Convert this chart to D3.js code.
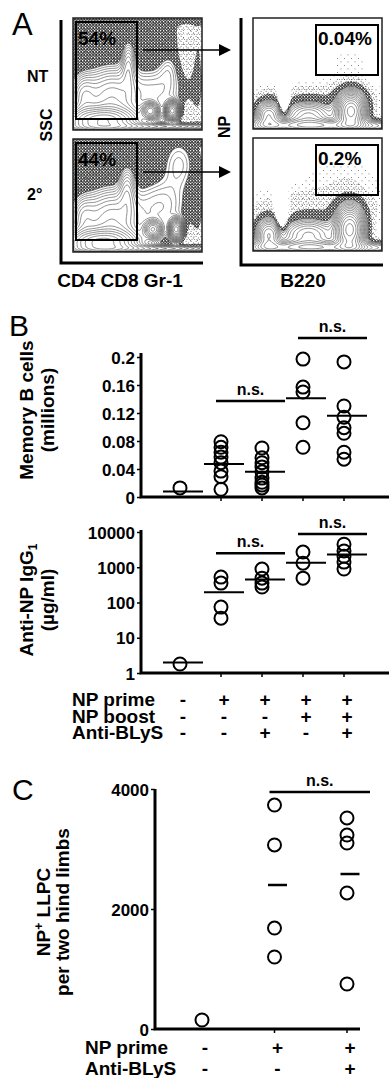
<!DOCTYPE html>
<html>
<head>
<meta charset="utf-8">
<script src="https://cdn.jsdelivr.net/npm/d3@7"></script>
<style>
  body { margin: 0; background: #fff; }
  text { font-family: "Liberation Sans", Arial, Helvetica, sans-serif; font-weight: bold; fill: #000; }
  .letter { font-weight: normal; }
</style>
</head>
<body>
<svg id="fig" width="389" height="1078"></svg>
<script>
// ---------- data ----------
// panel A: gate percentages
const gateLeft = ["54%", "44%"];
const gateRight = ["0.04%", "0.2%"];
const rowNames = ["NT", "2°"];

// flow populations [cx, cy, sx, sy, weight] in plot fractions (y up)
// "pop" = contoured events, "haze" = outlier dots only
const popLeftNT = [
  [0.22, 0.08, 0.17, 0.07, 1.0],
  [0.30, 0.28, 0.14, 0.17, 0.30],
  [0.43, 0.58, 0.035, 0.14, 0.15],
  [0.08, 0.30, 0.06, 0.12, 0.18],
  [0.60, 0.17, 0.035, 0.04, 0.8],
  [0.77, 0.17, 0.03, 0.045, 1.2],
  [0.66, 0.35, 0.13, 0.14, 0.12],
  [0.74, 0.55, 0.05, 0.10, 0.06],
  [0.50, 0.03, 0.33, 0.02, 0.3]
];
const hazeLeftNT = [
  [0.22, 0.80, 0.30, 0.25, 0.06],
  [0.60, 0.80, 0.10, 0.25, 0.04],
  [0.97, 0.50, 0.05, 0.50, 0.03],
  [0.78, 0.85, 0.04, 0.20, 0.02],
  [0.50, 0.98, 0.50, 0.03, 0.05]
];
const popLeft2 = [
  [0.22, 0.08, 0.17, 0.07, 0.9],
  [0.30, 0.28, 0.14, 0.17, 0.30],
  [0.42, 0.55, 0.04, 0.14, 0.14],
  [0.08, 0.30, 0.06, 0.12, 0.15],
  [0.62, 0.20, 0.04, 0.045, 0.6],
  [0.80, 0.20, 0.03, 0.05, 1.0],
  [0.68, 0.40, 0.13, 0.16, 0.12],
  [0.82, 0.78, 0.09, 0.16, 0.09],
  [0.50, 0.03, 0.33, 0.02, 0.25]
];
const hazeLeft2 = [
  [0.18, 0.85, 0.25, 0.20, 0.06],
  [0.56, 0.80, 0.07, 0.13, 0.05],
  [0.97, 0.45, 0.05, 0.40, 0.03],
  [0.50, 0.98, 0.50, 0.03, 0.05]
];
const popRightNT = [
  [0.12, 0.12, 0.06, 0.08, 0.6],
  [0.43, 0.12, 0.12, 0.08, 0.45],
  [0.76, 0.16, 0.065, 0.10, 1.4],
  [0.50, 0.03, 0.40, 0.035, 0.6],
  [0.24, 0.25, 0.025, 0.10, -0.25]
];
const hazeRightNT = [
  [0.50, 0.30, 0.33, 0.08, 0.025],
  [0.75, 0.60, 0.15, 0.12, 0.008]
];
const popRight2 = [
  [0.12, 0.14, 0.06, 0.09, 0.6],
  [0.43, 0.14, 0.13, 0.09, 0.45],
  [0.75, 0.19, 0.065, 0.12, 1.4],
  [0.50, 0.03, 0.40, 0.035, 0.6],
  [0.22, 0.30, 0.03, 0.12, -0.2]
];
const hazeRight2 = [
  [0.50, 0.40, 0.35, 0.10, 0.03],
  [0.70, 0.65, 0.20, 0.12, 0.012]
];

// panel B
const groupsB = ["g1", "g2", "g3", "g4", "g5"];
const memB = [
  [0.013],
  [0.079, 0.071, 0.064, 0.057, 0.049, 0.037, 0.029, 0.011],
  [0.070, 0.056, 0.049, 0.043, 0.036, 0.027, 0.021, 0.017, 0.013],
  [0.197, 0.157, 0.150, 0.106, 0.071],
  [0.193, 0.130, 0.114, 0.099, 0.091, 0.064, 0.054]
];
const memBMean = [0.008, 0.047, 0.036, 0.141, 0.116];
const memBTicks = [0, 0.04, 0.08, 0.12, 0.16, 0.2];
const memBSig = [[1, 2, 0.137], [3, 4, 0.227]];

const igg = [
  [1.8],
  [525, 355, 74, 36],
  [890, 490, 355, 275],
  [2700, 1300, 490],
  [4500, 2900, 2050, 1400, 890]
];
const iggMean = [2.0, 195, 450, 1350, 2300];
const iggTicks = [1, 10, 100, 1000, 10000];
const iggSig = [[1, 2, 2500], [3, 4, 8800]];

const rowsB = ["NP prime", "NP boost", "Anti-BLyS"];
const signsB = [
  ["-", "+", "+", "+", "+"],
  ["-", "-", "-", "+", "+"],
  ["-", "-", "+", "-", "+"]
];

// panel C
const groupsC = ["g1", "g2", "g3"];
const llpc = [
  [150],
  [3733, 3067, 1683, 1200],
  [3517, 3233, 3100, 2267, 750]
];
const llpcMean = [null, 2400, 2583];
const llpcTicks = [0, 2000, 4000];
const llpcSig = [[1, 2, 3950]];
const rowsC = ["NP prime", "Anti-BLyS"];
const signsC = [
  ["-", "+", "+"],
  ["-", "-", "+"]
];

// ---------- drawing ----------
const svg = d3.select("#fig");
const defs = svg.append("defs");

// stipple patterns for flow plots
function pattern(id, size, dots, col, s) {
  const p = defs.append("pattern").attr("id", id)
    .attr("width", size).attr("height", size).attr("patternUnits", "userSpaceOnUse");
  dots.forEach(d => p.append("rect").attr("x", d[0]).attr("y", d[1])
    .attr("width", s).attr("height", s).attr("fill", col));
}
pattern("stipSparse", 7, [[1.2, 2.0], [4.6, 5.5]], "#444", 0.8);
pattern("stipLight", 5, [[0.7, 0.9], [3.1, 2.6], [1.6, 3.9], [4.2, 4.4]], "#222", 0.8);
pattern("stipDense", 3, [[0.1, 0.2], [1.6, 1.1], [0.8, 2.1], [2.3, 2.4], [2.2, 0.3], [0.2, 1.2]], "#000", 0.95);

function grid(pops, nx, ny) {
  const vals = new Float64Array(nx * ny);
  for (let j = 0; j < ny; j++) {
    const v = 1 - (j + 0.5) / ny;
    for (let i = 0; i < nx; i++) {
      const u = (i + 0.5) / nx;
      let s = 0;
      pops.forEach(p => {
        const dx = (u - p[0]) / p[2], dy = (v - p[1]) / p[3];
        s += p[4] * Math.exp(-0.5 * (dx * dx + dy * dy));
      });
      vals[i + j * nx] = s;
    }
  }
  return vals;
}

function drawFlow(x0, y0, w, h, pops, haze, tSparse, tLight, tDense, tLine, id) {
  const nx = 96, ny = 84;
  const pv = grid(pops, nx, ny), hv = grid(haze, nx, ny);
  const tv = pv.map((d, i) => d + hv[i]);
  const proj = d3.geoTransform({
    point(x, y) { this.stream.point(x0 + x * w / nx, y0 + y * h / ny); }
  });
  const path = d3.geoPath(proj);
  const stip = d3.contours().size([nx, ny]).thresholds([tSparse, tLight, tDense])(tv);
  const lines = d3.contours().size([nx, ny])
    .thresholds(d3.range(24).map(k => tLine * Math.pow(1.2, k)))(pv);

  defs.append("clipPath").attr("id", id).append("rect")
    .attr("x", x0).attr("y", y0).attr("width", w).attr("height", h);
  const g = svg.append("g").attr("clip-path", `url(#${id})`);
  g.append("path").attr("d", path(stip[0])).attr("fill", "url(#stipSparse)");
  g.append("path").attr("d", path(stip[1])).attr("fill", "url(#stipLight)");
  g.append("path").attr("d", path(stip[2])).attr("fill", "url(#stipDense)");
  g.append("path").attr("d", path(lines[0])).attr("fill", "#fff");
  g.selectAll(".ct").data(lines).join("path")
    .attr("d", path).attr("fill", "none")
    .attr("stroke", "#444").attr("stroke-width", 0.6);
  svg.append("rect").attr("x", x0).attr("y", y0).attr("width", w).attr("height", h)
    .attr("fill", "none").attr("stroke", "#222").attr("stroke-width", 1.5);
}

// Panel A
svg.append("text").attr("class", "letter").attr("x", 12).attr("y", 35)
  .style("font-size", "31px").text("A");

const leftBoxes = [[73, 18, 129, 112], [73, 139, 129, 113]];
const rightBoxes = [[253, 18, 129, 111], [253, 138, 129, 113]];
const leftPops = [[popLeftNT, hazeLeftNT], [popLeft2, hazeLeft2]];
const rightPops = [[popRightNT, hazeRightNT], [popRight2, hazeRight2]];

leftBoxes.forEach((b, k) => {
  drawFlow(b[0], b[1], b[2], b[3], leftPops[k][0], leftPops[k][1], 0.006, 0.012, 0.03, 0.06, "cl" + k);
  svg.append("rect").attr("x", b[0] + 3).attr("y", b[1] + 4).attr("width", 61).attr("height", 97)
    .attr("fill", "none").attr("stroke", "#000").attr("stroke-width", 2);
  svg.append("text").attr("x", b[0] + 5).attr("y", b[1] + 27).style("font-size", "19px").text(gateLeft[k]);
  // arrow to the right plot
  const ay = b[1] + 32 + k;
  svg.append("line").attr("x1", 143).attr("x2", 220).attr("y1", ay).attr("y2", ay)
    .attr("stroke", "#000").attr("stroke-width", 1.5);
  svg.append("path").attr("d", `M219,${ay - 6}L231,${ay}L219,${ay + 6}Z`).attr("fill", "#000");
  svg.append("text").attr("x", 27).attr("y", [82, 200][k]).style("font-size", "16px").text(rowNames[k]);
});

rightBoxes.forEach((b, k) => {
  drawFlow(b[0], b[1], b[2], b[3], rightPops[k][0], rightPops[k][1], 0.006, 0.014, 0.045, 0.12, "cr" + k);
  svg.append("rect").attr("x", b[0] + 63).attr("y", b[1] + 7).attr("width", 62).attr("height", 50)
    .attr("fill", "none").attr("stroke", "#000").attr("stroke-width", 2);
  svg.append("text").attr("x", b[0] + 65).attr("y", b[1] + 27).style("font-size", "19px").text(gateRight[k]);
});

// axis frames of panel A
const axA = svg.append("g").attr("stroke", "#000").attr("stroke-width", 3).attr("fill", "none");
axA.append("path").attr("d", "M61,20V263H203");
axA.append("path").attr("d", "M241,18V265H383");
svg.append("text").attr("transform", "translate(52,125) rotate(-90)").attr("text-anchor", "middle")
  .style("font-size", "16px").text("SSC");
svg.append("text").attr("transform", "translate(230,127) rotate(-90)").attr("text-anchor", "middle")
  .style("font-size", "16px").text("NP");
svg.append("text").attr("x", 120).attr("y", 287).attr("text-anchor", "middle")
  .style("font-size", "19px").text("CD4 CD8 Gr-1");
svg.append("text").attr("x", 303).attr("y", 287).attr("text-anchor", "middle")
  .style("font-size", "19px").text("B220");

// ---------- Panel B ----------
svg.append("text").attr("class", "letter").attr("x", 9).attr("y", 336)
  .style("font-size", "30px").text("B");

const xB = d3.scalePoint().domain(groupsB).range([180, 344]);
const yMem = d3.scaleLinear().domain([0, 0.2]).range([497, 357]);
const yIgg = d3.scaleLog().domain([1, 10000]).range([673, 532]);

function dotPlot(groups, x, y, vals, means, sig, ticks, fmt, axisTop, axisLeftX, axisRight, meanW, meanSW) {
  const g = svg.append("g");
  const yAxis = d3.axisLeft(y).tickValues(ticks).tickFormat(fmt).tickSize(4).tickPadding(2);
  const ga = g.append("g").attr("transform", `translate(${axisLeftX},0)`).call(yAxis);
  ga.select(".domain").remove();
  ga.selectAll("line").attr("stroke", "#000").attr("stroke-width", 1.5);
  ga.selectAll("text").style("font-size", "17px").style("font-family", null).attr("dy", "0.36em");
  const y0 = y.range()[0];
  g.append("path").attr("d", `M${axisLeftX},${axisTop}V${y0}H${axisRight}`)
    .attr("fill", "none").attr("stroke", "#000").attr("stroke-width", 3);
  groups.slice(1).forEach(d => {
    g.append("line").attr("x1", x(d)).attr("x2", x(d)).attr("y1", y0).attr("y2", y0 + 4)
      .attr("stroke", "#000").attr("stroke-width", 1.5);
  });
  vals.forEach((arr, i) => {
    g.selectAll(null).data(arr).join("circle")
      .attr("cx", x(groups[i])).attr("cy", d => y(d)).attr("r", 6.5)
      .attr("fill", "none").attr("stroke", "#000").attr("stroke-width", 2);
  });
  means.forEach((m, i) => {
    if (m == null) return;
    const cx = x(groups[i]) + 3;
    g.append("line").attr("x1", cx - meanW / 2).attr("x2", cx + meanW / 2)
      .attr("y1", y(m)).attr("y2", y(m)).attr("stroke", "#000").attr("stroke-width", meanSW);
  });
  sig.forEach(s => {
    const x1 = x(groups[s[0]]) - 5, x2 = x(groups[s[1]]) + 23, yy = y(s[2]);
    g.append("line").attr("x1", x1).attr("x2", x2).attr("y1", yy).attr("y2", yy)
      .attr("stroke", "#000").attr("stroke-width", 2.5);
    g.append("text").attr("x", (x1 + x2) / 2).attr("y", yy - 6).attr("text-anchor", "middle")
      .style("font-size", "16px").text("n.s.");
  });
}

dotPlot(groupsB, xB, yMem, memB, memBMean, memBSig, memBTicks, d => String(d), 353, 141, 389, 40, 2);
dotPlot(groupsB, xB, yIgg, igg, iggMean, iggSig, iggTicks, d => String(d), 530, 141, 389, 40, 2);

function yLabel(lines, cy, xs) {
  lines.forEach((t, i) => {
    const tx = svg.append("text").attr("transform", `translate(${xs[i]},${cy}) rotate(-90)`)
      .attr("text-anchor", "middle").style("font-size", "19px");
    if (Array.isArray(t)) {
      t.forEach(p => {
        const ts = tx.append("tspan").text(p[0]);
        if (p[1] === "sub") ts.style("font-size", "12px").attr("dy", 4);
        if (p[1] === "sup") ts.style("font-size", "12px").attr("dy", -7);
        if (p[1] === "reset") ts.attr("dy", 7);
      });
    } else tx.text(t);
  });
}
yLabel(["Memory B cells", "(millions)"], 410, [33, 54]);
yLabel([[["Anti-NP IgG", ""], ["1", "sub"]], "(µg/ml)"], 600, [33, 54]);

function signTable(rows, signs, x, labelX, baselines) {
  rows.forEach((r, i) => {
    svg.append("text").attr("x", labelX).attr("y", baselines[i]).style("font-size", "19px").text(r);
    svg.selectAll(null).data(signs[i]).join("text")
      .attr("x", (d, j) => x(x.domain()[j]) + 3).attr("y", baselines[i])
      .attr("text-anchor", "middle").style("font-size", "19px").text(d => d);
  });
}
signTable(rowsB, signsB, xB, 72, [706, 722.5, 739]);

// ---------- Panel C ----------
svg.append("text").attr("class", "letter").attr("x", 12).attr("y", 800)
  .style("font-size", "30px").text("C");
const xC = d3.scalePoint().domain(groupsC).range([202, 347]);
const yC = d3.scaleLinear().domain([0, 4000]).range([1029, 789]);
dotPlot(groupsC, xC, yC, llpc, llpcMean, llpcSig, llpcTicks, d => String(d), 789, 155, 360, 19, 2.5);
yLabel([[["NP", ""], ["+", "sup"], [" LLPC", "reset"]], "per two hind limbs"], 912, [50, 69]);
signTable(rowsC, signsC, xC, 85, [1054, 1075]);
</script>
</body>
</html>
